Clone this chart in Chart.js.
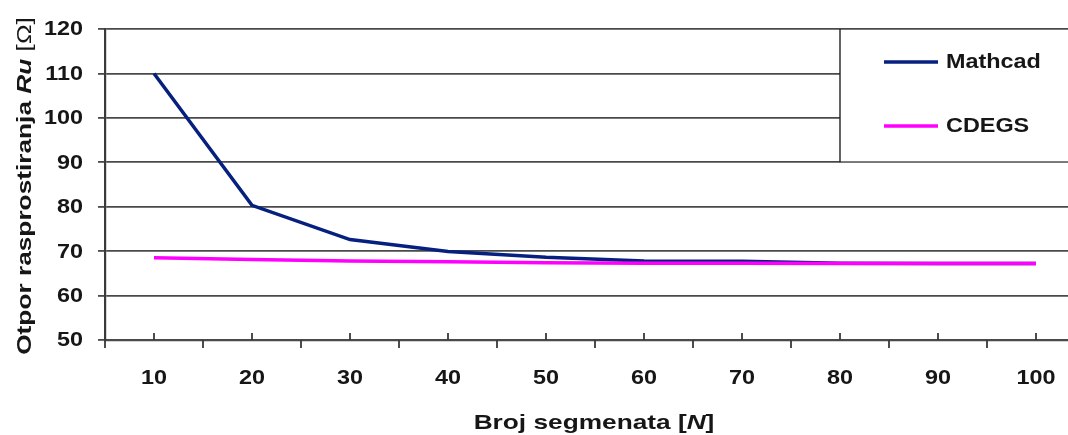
<!DOCTYPE html>
<html>
<head>
<meta charset="utf-8">
<script src="https://cdn.jsdelivr.net/npm/chart.js@4.4.0/dist/chart.umd.min.js"></script>
<style>
  html, body { margin: 0; padding: 0; background: #fff; overflow: hidden; }
  #wrap { width: 1068px; height: 435px; overflow: hidden; }
</style>
</head>
<body>
<div id="wrap"><canvas id="chart" width="1090" height="435"></canvas></div>
<script>
// Data
const segments = ['10', '20', '30', '40', '50', '60', '70', '80', '90', '100'];
const mathcad = [110, 80.3, 72.6, 69.9, 68.6, 67.8, 67.7, 67.3, 67.2, 67.2];
const cdegs = [68.5, 68.1, 67.8, 67.6, 67.4, 67.3, 67.3, 67.2, 67.2, 67.2];
const yTicks = [50, 60, 70, 80, 90, 100, 110, 120];

const FONT = '"Liberation Sans", Arial, sans-serif';
const TEXT = '#161616';

// write text stretched horizontally; align is 'left', 'center' or 'right'
function wideText(ctx, parts, x, y, align, stretch = 1.2) {
    let total = 0;
    parts.forEach(p => { ctx.font = p.font; total += ctx.measureText(p.text).width; });
    total *= stretch;
    let cx = align === 'center' ? x - total / 2 : align === 'right' ? x - total : x;
    ctx.save();
    ctx.textAlign = 'left';
    ctx.textBaseline = 'middle';
    ctx.fillStyle = TEXT;
    ctx.translate(cx, y);
    ctx.scale(stretch, 1);
    let off = 0;
    parts.forEach(p => {
        ctx.font = p.font;
        ctx.fillText(p.text, off, 0);
        off += ctx.measureText(p.text).width;
    });
    ctx.restore();
}

const bold = size => 'bold ' + size + 'px ' + FONT;

const decorations = {
    id: 'decorations',
    beforeDatasetsDraw(chart) {
        const ctx = chart.ctx;
        const area = chart.chartArea;
        const xs = chart.scales.x;
        const ys = chart.scales.y;
        const band = xs.getPixelForValue(1) - xs.getPixelForValue(0);
        ctx.save();
        // x axis ticks: inside at categories, outside at band edges
        ctx.strokeStyle = '#3a3a3a';
        ctx.lineWidth = 1.8;
        ctx.beginPath();
        segments.forEach((s, i) => {
            const cx = xs.getPixelForValue(i);
            ctx.moveTo(cx, area.bottom - 7);
            ctx.lineTo(cx, area.bottom);
            ctx.moveTo(cx - band / 2, area.bottom);
            ctx.lineTo(cx - band / 2, area.bottom + 8);
        });
        ctx.stroke();

        // legend box covering the top right of the grid
        const top = ys.getPixelForValue(120) + 1;
        const bottom = ys.getPixelForValue(90) - 1;
        const left = 840;
        ctx.fillStyle = '#fff';
        ctx.fillRect(left, top, chart.width - left, bottom - top);
        ctx.strokeStyle = '#202020';
        ctx.lineWidth = 1.4;
        ctx.beginPath();
        ctx.moveTo(left, top - 1);
        ctx.lineTo(left, bottom + 1);
        ctx.stroke();
        ctx.restore();

        // tick labels, placed by the scales
        yTicks.forEach(v => wideText(ctx, [{ text: String(v), font: bold(19.5) }], 83, ys.getPixelForValue(v) + 1, 'right'));
        segments.forEach((s, i) => wideText(ctx, [{ text: s, font: bold(19.5) }], xs.getPixelForValue(i), 379, 'center'));
    },
    afterDatasetsDraw(chart) {
        const ctx = chart.ctx;
        const area = chart.chartArea;
        ctx.save();
        // legend entries
        const rows = [62, 126];
        chart.data.datasets.forEach((ds, i) => {
            ctx.strokeStyle = ds.borderColor;
            ctx.lineWidth = 3.5;
            ctx.beginPath();
            ctx.moveTo(884, rows[i]);
            ctx.lineTo(938, rows[i]);
            ctx.stroke();
            wideText(ctx, [{ text: ds.label, font: bold(19.5) }], 946, rows[i] + 1, 'left');
        });

        // axis titles with italic symbols
        wideText(ctx, [
            { text: 'Broj segmenata [', font: bold(21) },
            { text: 'N', font: 'italic ' + bold(21) },
            { text: ']', font: bold(21) }
        ], 594, 423, 'center', 1.25);

        ctx.translate(25, 186);
        ctx.rotate(-Math.PI / 2);
        wideText(ctx, [
            { text: 'Otpor rasprostiranja ', font: bold(21) },
            { text: 'Ru', font: 'italic ' + bold(21) },
            { text: ' [\u03A9]', font: '21px ' + FONT }
        ], 0, 0, 'center', 1.25);
        ctx.restore();
    }
};

new Chart(document.getElementById('chart'), {
    type: 'line',
    data: {
        labels: segments,
        datasets: [
            {
                label: 'Mathcad',
                data: mathcad,
                borderColor: '#06207f',
                borderWidth: 3.5,
                pointRadius: 0,
                tension: 0,
                order: 2
            },
            {
                label: 'CDEGS',
                data: cdegs,
                borderColor: '#ff00ff',
                borderWidth: 3.5,
                pointRadius: 0,
                tension: 0,
                order: 1
            }
        ]
    },
    options: {
        responsive: false,
        animation: false,
        events: [],
        layout: { padding: { top: 29, right: 5, left: 0, bottom: 0 } },
        plugins: {
            legend: { display: false },
            tooltip: { enabled: false }
        },
        scales: {
            x: {
                offset: true,
                grid: { display: false, drawTicks: false },
                border: { display: true, color: '#4a4a4a', width: 2.2 },
                ticks: { display: false },
                afterFit(scale) { scale.height = 95; }
            },
            y: {
                min: 50,
                max: 120,
                afterBuildTicks(scale) { scale.ticks = yTicks.map(v => ({ value: v })); },
                grid: { color: '#4a4a4a', lineWidth: 1.8, tickLength: 7 },
                border: { display: true, color: '#3a3a3a', width: 2.2 },
                ticks: { display: false },
                afterFit(scale) { scale.width = 105; }
            }
        }
    },
    plugins: [decorations]
});
</script>
</body>
</html>
